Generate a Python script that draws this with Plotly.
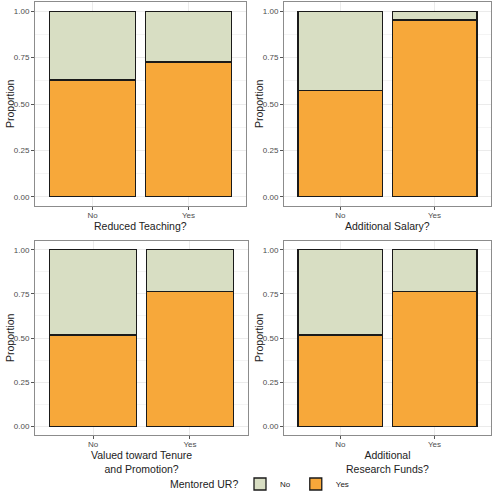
import plotly.graph_objects as go

categories = ["No", "Yes"]
panel_titles = ["Reduced Teaching?", "Additional Salary?",
                "Valued toward Tenure<br>and Promotion?", "Additional<br>Research Funds?"]
# proportion of "Yes" (mentored UR) per panel, for categories No / Yes
yes_props = [
    [0.629, 0.726],
    [0.574, 0.953],
    [0.517, 0.765],
    [0.517, 0.763],
]
no_props = [[round(1 - v, 3) for v in row] for row in yes_props]
y_ticks = [0.0, 0.25, 0.5, 0.75, 1.0]
y_ticklabels = ["0.00", "0.25", "0.50", "0.75", "1.00"]

COL_YES = "#f7a83a"
COL_NO = "#d8dec3"
W, H = 492, 500

# panel pixel boxes: (x0, x1, ytop, ybottom)
boxes = [
    (35, 246, 2, 206),
    (284, 491, 2, 206),
    (35, 248, 241, 435),
    (284, 491, 241, 435),
]

fig = go.Figure()
font = "Liberation Sans, Arial, sans-serif"
for i in range(4):
    xa = "x" if i == 0 else f"x{i+1}"
    ya = "y" if i == 0 else f"y{i+1}"
    fig.add_trace(go.Bar(x=categories, y=yes_props[i], name="Yes", xaxis=xa, yaxis=ya,
                         marker=dict(color=COL_YES, line=dict(color="#1a1a1a", width=1.3)),
                         width=0.9, legendgroup="Yes", showlegend=(i == 0), hoverinfo="skip"))
    fig.add_trace(go.Bar(x=categories, y=no_props[i], name="No", xaxis=xa, yaxis=ya,
                         marker=dict(color=COL_NO, line=dict(color="#1a1a1a", width=1.3)),
                         width=0.9, legendgroup="No", showlegend=(i == 0), hoverinfo="skip"))

layout = dict(
    width=W, height=H, margin=dict(l=0, r=0, t=0, b=0, autoexpand=False),
    paper_bgcolor="white", plot_bgcolor="white",
    barmode="stack", bargap=0.1,
    font=dict(family=font, color="#222"),
    legend=dict(orientation="h", x=240 / W, xanchor="left", y=1 - 484 / H, yanchor="middle",
                traceorder="reversed", font=dict(size=8, color="#222"), itemwidth=30,
                tracegroupgap=0),
)
annotations = [dict(text="Mentored UR?", xref="paper", yref="paper", x=240 / W, y=1 - 484 / H,
                    xanchor="right", yanchor="middle", showarrow=False,
                    font=dict(size=10.5, color="#222"))]
for i, (x0, x1, yt, yb) in enumerate(boxes):
    suffix = "" if i == 0 else str(i + 1)
    layout["xaxis" + suffix] = dict(
        domain=[x0 / W, x1 / W], anchor="y" + suffix, range=[-0.6, 1.6], automargin=False,
        showline=True, mirror=True, linecolor="#8c8c8c", linewidth=1,
        ticks="outside", ticklen=3, tickcolor="#555", showgrid=True, gridcolor="#ebebeb",
        ticklabelstandoff=-2,
        tickfont=dict(size=8, color="#4d4d4d"), zeroline=False, fixedrange=True,
    )
    layout["yaxis" + suffix] = dict(
        domain=[1 - yb / H, 1 - yt / H], anchor="x" + suffix, range=[-0.05, 1.05], automargin=False,
        tickvals=y_ticks, ticktext=y_ticklabels,
        showline=True, mirror=True, linecolor="#8c8c8c", linewidth=1,
        ticks="outside", ticklen=3, tickcolor="#555", showgrid=True, gridcolor="#ebebeb",
        minor=dict(tickvals=[0.125, 0.375, 0.625, 0.875], showgrid=True, gridcolor="#f4f4f4", ticks=""),
        tickfont=dict(size=8, color="#4d4d4d"), zeroline=False, fixedrange=True,
    )
    annotations.append(dict(text=panel_titles[i], xref="paper", yref="paper",
                            x=(x0 + x1) / 2 / W, y=1 - (yb + 12) / H, xanchor="center", yanchor="top",
                            showarrow=False, font=dict(size=10.5, color="#222")))
    annotations.append(dict(text="Proportion", xref="paper", yref="paper",
                            x=(x0 - 25) / W, y=1 - (yt + yb) / 2 / H, xanchor="center", yanchor="middle",
                            textangle=-90, showarrow=False, font=dict(size=10.5, color="#222")))
layout["annotations"] = annotations
fig.update_layout(**layout)
fig.write_html("out.html", config={"displayModeBar": False},
               post_script="document.body.style.margin='0';document.body.style.overflow='hidden';")
